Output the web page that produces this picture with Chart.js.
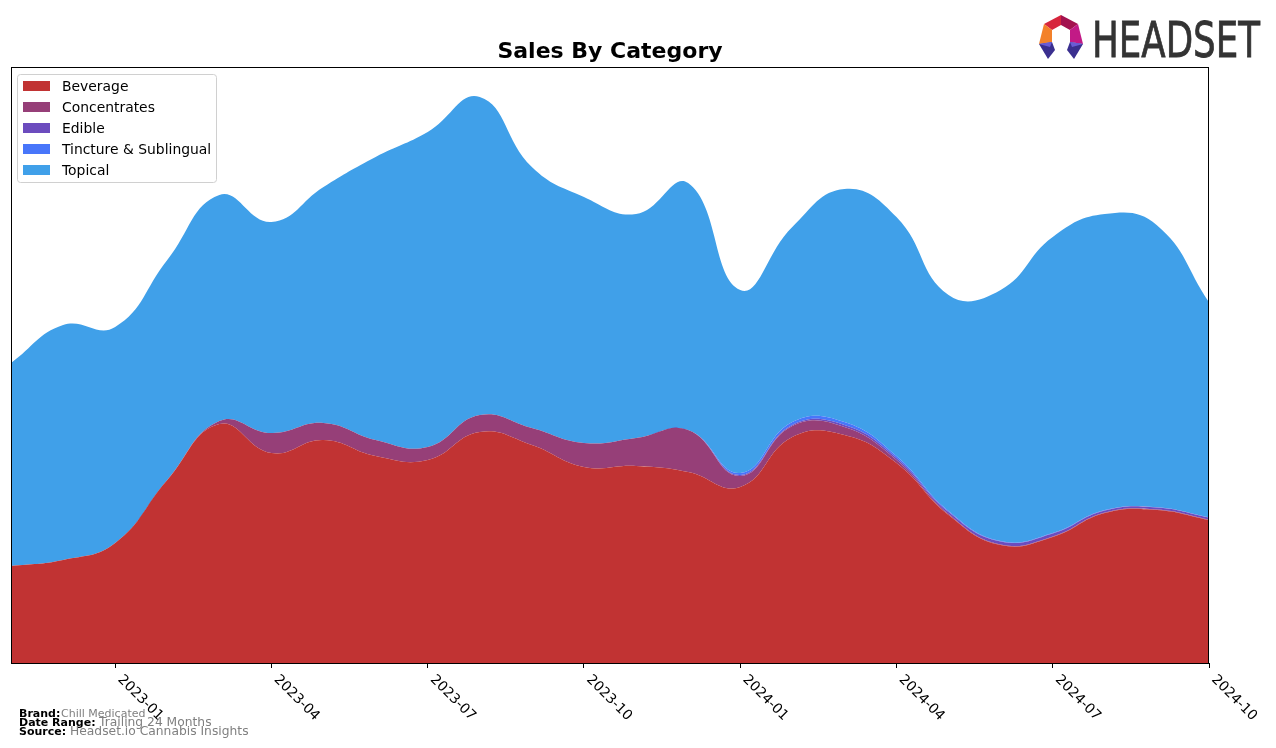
<!DOCTYPE html>
<html>
<head>
<meta charset="utf-8">
<script src="https://cdn.jsdelivr.net/npm/chart.js@4/dist/chart.umd.min.js"></script>
<style>
  html, body { margin: 0; padding: 0; background: #fff; }
  #wrap { position: relative; width: 1276px; height: 748px; }
  #overlay { position: absolute; left: 0; top: 0; pointer-events: none; font-family: "DejaVu Sans", sans-serif; }
</style>
</head>
<body>
<div id="wrap">
  <canvas id="sales-chart" width="1276" height="748"></canvas>
  <svg id="overlay" width="1276" height="748" xmlns="http://www.w3.org/2000/svg">
    <text x="610" y="58" text-anchor="middle" font-weight="bold" font-size="22" fill="#000">Sales By Category</text>
    <g id="legend"></g>
    <text y="716.7" font-size="11"><tspan x="19" font-weight="bold" fill="#000">Brand:</tspan><tspan x="61" fill="#808080">Chill Medicated</tspan></text>
    <text y="725.7" font-size="11"><tspan x="19" font-weight="bold" fill="#000">Date Range:</tspan><tspan x="99" font-size="12.3" fill="#808080">Trailing 24 Months</tspan></text>
    <text y="734.5" font-size="11"><tspan x="19" font-weight="bold" fill="#000">Source:</tspan><tspan x="70" font-size="12.3" fill="#808080">Headset.io Cannabis Insights</tspan></text>
    <!-- logo -->
    <g>
      <polygon points="1044,24 1061,15 1061,25 1052,30" fill="#d7263d"/>
      <polygon points="1061,15 1078,24 1070,30 1061,25" fill="#a3124f"/>
      <polygon points="1044,24 1052,30 1052,42 1039,44" fill="#f3812a"/>
      <polygon points="1078,24 1083,44 1070,42 1070,30" fill="#c21a86"/>
      <polygon points="1039,44 1052,42 1055,50 1048,59" fill="#3a2f8f"/>
      <polygon points="1039,44 1052,42 1050,47" fill="#6a5cd6"/>
      <polygon points="1083,44 1070,42 1067,50 1074,59" fill="#3a2f8f"/>
      <polygon points="1083,44 1070,42 1072,47" fill="#6a5cd6"/>
      <text x="1092" y="56.5" font-size="50" fill="#333" stroke="#333" stroke-width="0.8" textLength="168" lengthAdjust="spacingAndGlyphs">HEADSET</text>
    </g>
  </svg>
</div>
<script>
const months = ['2022-11', '2022-12', '2023-01', '2023-02', '2023-03', '2023-04', '2023-05', '2023-06',
                '2023-07', '2023-08', '2023-09', '2023-10', '2023-11', '2023-12', '2024-01', '2024-02',
                '2024-03', '2024-04', '2024-05', '2024-06', '2024-07', '2024-08', '2024-09', '2024-10'];
const tickLabels = ['2023-01', '2023-04', '2023-07', '2023-10', '2024-01', '2024-04', '2024-07', '2024-10'];

const beverage     = [97, 103, 120, 183, 239, 210, 223, 207, 203, 231, 218, 196, 197, 191, 176, 226, 228, 200, 148, 118, 126, 150, 153, 143];
const concentrates = [0, 0, 0, 0, 3, 20, 17, 16, 13, 17, 17, 24, 28, 42, 11, 11, 8, 3, 1, 0.5, 0.5, 0.5, 0.5, 0.5];
const edible       = [0, 0, 0, 0, 0, 0, 0, 0, 0, 0, 0, 0, 0, 0, 1, 1, 2, 2, 2, 3, 3, 2, 2, 2];
const tincture     = [0, 0, 0, 0, 0, 0, 0, 0, 0, 0, 0, 0, 0, 0, 2, 3, 3, 2, 1, 0.5, 0.5, 0.5, 0.3, 0.3];
const topical      = [203, 235, 216, 220, 226, 211, 236, 283, 315, 318, 261, 246, 224, 247, 183, 195, 233, 239, 216, 251, 296, 296, 282, 215];

function area(label, data, color, fill) {
    return {
        label: label,
        data: data,
        backgroundColor: color,
        borderColor: color,
        borderWidth: 0,
        pointRadius: 0,
        tension: 0.45,
        fill: fill
    };
}

// tick labels rotated -45 like the original, plus the frame round the plot
const framePlugin = {
    id: 'frame',
    afterDraw(chart) {
        const ctx = chart.ctx;
        const a = chart.chartArea;
        const xs = chart.scales.x;
        ctx.save();
        ctx.strokeStyle = '#000';
        ctx.lineWidth = 1;
        ctx.strokeRect(Math.round(a.left) + 0.5, Math.round(a.top) + 0.5,
                       Math.round(a.right - a.left) - 1, Math.round(a.bottom - a.top));
        ctx.fillStyle = '#000';
        ctx.font = '13.9px "DejaVu Sans"';
        ctx.textAlign = 'left';
        ctx.textBaseline = 'alphabetic';
        tickLabels.forEach(lbl => {
            const px = xs.getPixelForValue(months.indexOf(lbl));
            ctx.save();
            ctx.translate(px + 2, a.bottom + 17);
            ctx.rotate(Math.PI / 4);
            ctx.fillText(lbl, 0, 0);
            ctx.restore();
        });
        ctx.restore();
    }
};

const ctx = document.getElementById('sales-chart').getContext('2d');
const chart = new Chart(ctx, {
    type: 'line',
    data: {
        labels: months,
        datasets: [
            area('Beverage', beverage, '#c13333', 'origin'),
            area('Concentrates', concentrates, '#963f78', '-1'),
            area('Edible', edible, '#6c4cbe', '-1'),
            area('Tincture & Sublingual', tincture, '#4876fa', '-1'),
            area('Topical', topical, '#40a0e9', '-1')
        ]
    },
    options: {
        responsive: false,
        animation: false,
        layout: { padding: { left: 11, right: 67, top: 67, bottom: 0 } },
        plugins: {
            legend: { display: false },
            title: { display: false },
            tooltip: { enabled: false }
        },
        scales: {
            x: {
                type: 'category',
                offset: false,
                border: { display: false },
                grid: {
                    drawOnChartArea: false,
                    drawTicks: true,
                    tickLength: 5,
                    color: c => (c.tick && tickLabels.includes(c.tick.label)) ? '#000' : 'rgba(0,0,0,0)'
                },
                ticks: { display: false, autoSkip: false },
                afterFit: s => { s.height = 85; }
            },
            y: {
                display: false,
                stacked: true,
                min: 0,
                max: 596
            }
        }
    },
    plugins: [framePlugin]
});

// legend box drawn from the chart's datasets
const legend = document.getElementById('legend');
const NS = 'http://www.w3.org/2000/svg';
const box = document.createElementNS(NS, 'rect');
box.setAttribute('x', 17.5); box.setAttribute('y', 74.5);
box.setAttribute('width', 199); box.setAttribute('height', 108);
box.setAttribute('rx', 3); box.setAttribute('fill', '#fff');
box.setAttribute('stroke', '#d0d0d0');
legend.appendChild(box);
chart.data.datasets.forEach((ds, i) => {
    const cy = 86 + i * 21;
    const sw = document.createElementNS(NS, 'rect');
    sw.setAttribute('x', 23); sw.setAttribute('y', cy - 5);
    sw.setAttribute('width', 27); sw.setAttribute('height', 10);
    sw.setAttribute('fill', ds.backgroundColor);
    legend.appendChild(sw);
    const t = document.createElementNS(NS, 'text');
    t.setAttribute('x', 62); t.setAttribute('y', cy + 5);
    t.setAttribute('font-size', '13.9'); t.setAttribute('fill', '#000');
    t.textContent = ds.label;
    legend.appendChild(t);
});
</script>
</body>
</html>
